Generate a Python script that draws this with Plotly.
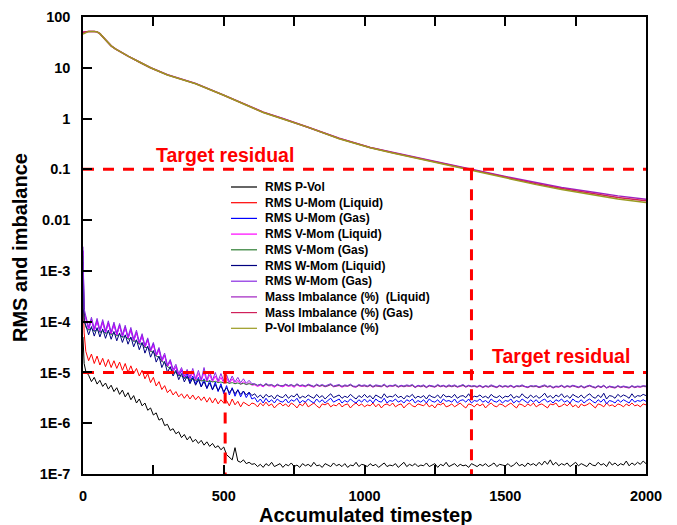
import plotly.graph_objects as go

# ---------------- data ----------------
# upper group (imbalances, %)
X_TOP = [0, 20, 40, 50, 60, 80, 100, 115, 130, 160, 200,
         240, 300, 400, 500, 640, 710, 800, 910, 1020, 1100,
         1200, 1300, 1380, 1500, 1610, 1700, 1820, 1900, 2000]
MASS_LIQ = [50, 52, 52, 51, 47, 36, 27, 23.5, 21, 17, 13,
            10, 7.3, 4.9, 2.9, 1.34, 1.0, 0.68, 0.41, 0.27, 0.215,
            0.165, 0.125, 0.1, 0.072, 0.054, 0.044, 0.035, 0.030, 0.0257]
MASS_GAS = [50, 52, 52, 51, 47, 36, 27, 23.5, 21, 17, 13,
            10, 7.25, 4.87, 2.88, 1.33, 0.99, 0.675, 0.405, 0.268, 0.212,
            0.16, 0.121, 0.097, 0.07, 0.052, 0.042, 0.033, 0.028, 0.024]
PVOL_IMB = [46, 52, 52, 51, 47, 36, 27, 23.5, 21, 17, 13,
            10, 7.2, 4.85, 2.87, 1.32, 0.98, 0.67, 0.40, 0.265, 0.21,
            0.158, 0.119, 0.095, 0.068, 0.050, 0.040, 0.031, 0.026, 0.0222]

# lower group (RMS residuals), values in units of 1e-6, at timesteps 0, 4, 10, 20, ..., 2000
X_LOW = [0, 4] + list(range(10, 2001, 10))
UNIT = 1e-6

RMS_PVOL = ([50, 15] +
            [10.5, 8.8, 6.6, 8.0, 5.9, 7.0, 5.3, 6.2, 4.7, 5.6] +
            [4.2, 5.0, 3.7, 4.5, 3.3, 4.0, 2.9, 3.5, 2.5, 3.0] +
            [2.2, 2.5, 1.8, 2.0, 1.45, 1.6, 1.15, 1.25, 0.9, 0.95] +
            [0.72, 0.78, 0.62, 0.68, 0.52, 0.6, 0.47, 0.55, 0.43, 0.48] +
            [0.40, 0.46, 0.37, 0.43, 0.35, 0.40, 0.33, 0.36, 0.30, 0.34] +
            [0.24, 0.21, 0.19, 0.33, 0.18, 0.17, 0.19, 0.16, 0.17, 0.155] +
            [0.16, 0.14, 0.155, 0.135, 0.16, 0.145, 0.17, 0.14, 0.15, 0.16] +
            [0.135, 0.155, 0.145, 0.165, 0.14, 0.15, 0.135, 0.16, 0.145, 0.155] +
            [0.14, 0.17, 0.145, 0.15, 0.135, 0.16, 0.15, 0.14, 0.165, 0.145] +
            [0.155, 0.14, 0.16, 0.135, 0.15, 0.145, 0.17, 0.14, 0.155, 0.15] +
            [0.14, 0.16, 0.145, 0.155, 0.135, 0.15, 0.165, 0.14, 0.15, 0.145] +
            [0.16, 0.135, 0.15, 0.17, 0.14, 0.155, 0.145, 0.16, 0.14, 0.15] +
            [0.145, 0.165, 0.14, 0.15, 0.16, 0.135, 0.155, 0.145, 0.17, 0.14] +
            [0.15, 0.16, 0.14, 0.155, 0.145, 0.15, 0.135, 0.16, 0.15, 0.14] +
            [0.155, 0.145, 0.16, 0.14, 0.15, 0.165, 0.14, 0.155, 0.15, 0.145] +
            [0.16, 0.14, 0.15, 0.17, 0.145, 0.155, 0.14, 0.165, 0.15, 0.16] +
            [0.145, 0.17, 0.15, 0.18, 0.155, 0.19, 0.15, 0.17, 0.145, 0.16] +
            [0.15, 0.165, 0.14, 0.155, 0.17, 0.145, 0.16, 0.15, 0.14, 0.165] +
            [0.15, 0.145, 0.17, 0.15, 0.16, 0.14, 0.175, 0.15, 0.165, 0.145] +
            [0.16, 0.15, 0.18, 0.145, 0.165, 0.15, 0.17, 0.155, 0.18, 0.16])

RMS_U_LIQ = ([500, 60] +
             [26, 17, 23, 15, 21, 14, 19, 13, 18, 12.5] +
             [17, 12, 16, 11, 15, 10, 13.5, 9.5, 12, 8.5] +
             [11, 7.5, 9.5, 6.3, 8, 5.4, 6.6, 4.6, 5.5, 4.0] +
             [4.6, 3.6, 4.2, 3.3, 3.8, 3.1, 3.7, 3.0, 3.6, 2.9] +
             [3.4, 2.8, 3.3, 2.6, 3.2, 2.5, 3.1, 2.4, 2.9, 2.5] +
             [2.8, 2.2, 3.0, 2.3, 2.7, 2.1, 2.6, 2.4, 2.2, 2.5] +
             [2.4, 2.1, 2.5, 2.2, 2.6, 2.2, 2.4, 2.0, 2.3, 2.5] +
             [2.2, 2.4, 2.1, 2.5, 2.3, 2.0, 2.4, 2.2, 2.6, 2.1] +
             [2.3, 2.5, 2.2, 2.0, 2.4, 2.3, 2.5, 2.1, 2.3, 2.2] +
             [2.5, 2.1, 2.3, 2.4, 2.0, 2.3, 2.5, 2.2, 2.4, 2.1] +
             [2.3, 2.2, 2.5, 2.1, 2.4, 2.0, 2.3, 2.4, 2.2, 2.5] +
             [2.1, 2.3, 2.4, 2.0, 2.3, 2.5, 2.2, 2.1, 2.4, 2.3] +
             [2.2, 2.5, 2.1, 2.3, 2.0, 2.4, 2.3, 2.5, 2.1, 2.2] +
             [2.4, 2.1, 2.3, 2.5, 2.2, 2.0, 2.4, 2.3, 2.1, 2.4] +
             [2.2, 2.4, 2.0, 2.3, 2.5, 2.2, 2.1, 2.4, 2.3, 2.1] +
             [2.3, 2.5, 2.2, 2.0, 2.4, 2.3, 2.1, 2.4, 2.2, 2.5] +
             [2.1, 2.3, 2.4, 2.2, 2.0, 2.4, 2.3, 2.5, 2.1, 2.2] +
             [2.4, 2.2, 2.5, 2.1, 2.3, 2.0, 2.4, 2.2, 2.3, 2.5] +
             [2.2, 2.0, 2.4, 2.3, 2.1, 2.5, 2.2, 2.3, 2.1, 2.4] +
             [2.3, 2.1, 2.4, 2.2, 2.5, 2.2, 2.3, 2.1, 2.4, 2.3])

RMS_U_GAS = ([2500, 150] +
             [120, 70, 110, 66, 105, 63, 100, 60, 95, 57] +
             [90, 54, 85, 50, 78, 46, 70, 41, 62, 36] +
             [54, 31, 45, 26, 37, 21, 29, 16.5, 22, 13] +
             [17, 10.5, 13, 8.5, 11, 7.5, 9.5, 6.5, 8.5, 6] +
             [8, 5.2, 7.5, 4.8, 7, 4.5, 6.5, 4.2, 6, 3.8] +
             [5.5, 3.6, 5, 3.4, 4.6, 3.3, 4.3, 3.2, 4.0, 3.0] +
             [3.2, 2.6, 3.0, 2.5, 3.1, 2.6, 2.9, 2.5, 3.0, 2.7] +
             [2.6, 3.0, 2.5, 2.9, 2.7, 3.1, 2.5, 2.8, 2.6, 3.0] +
             [2.7, 2.5, 3.0, 2.6, 2.9, 2.5, 2.8, 3.1, 2.6, 2.8] +
             [3.0, 2.5, 2.8, 2.6, 3.0, 2.7, 2.5, 2.9, 2.6, 3.0] +
             [2.6, 2.9, 2.5, 3.0, 2.7, 2.6, 3.1, 2.5, 2.8, 2.7] +
             [3.0, 2.6, 2.8, 2.5, 2.9, 2.7, 3.0, 2.5, 2.8, 2.6] +
             [2.9, 2.5, 3.0, 2.7, 2.6, 2.9, 2.5, 3.0, 2.7, 2.8] +
             [2.6, 3.0, 2.5, 2.8, 2.9, 2.6, 3.0, 2.5, 2.8, 2.7] +
             [3.0, 2.6, 2.8, 2.5, 3.0, 2.7, 2.6, 2.9, 2.5, 2.8] +
             [2.7, 3.0, 2.5, 2.8, 2.6, 3.0, 2.7, 2.5, 2.9, 2.6] +
             [2.9, 2.5, 2.8, 3.0, 2.6, 2.8, 2.5, 2.9, 2.7, 3.0] +
             [2.6, 2.8, 2.5, 3.0, 2.7, 2.6, 2.9, 2.5, 2.8, 3.0] +
             [2.7, 2.5, 2.9, 2.6, 3.0, 2.4, 2.8, 2.7, 2.5, 2.9] +
             [2.6, 2.9, 2.7, 2.5, 3.0, 2.6, 2.8, 2.7, 2.9, 2.7])

RMS_V_LIQ = ([2500, 160] +
             [115, 72, 108, 68, 102, 65, 97, 62, 92, 58] +
             [87, 55, 82, 52, 76, 47, 69, 42, 61, 37] +
             [52, 31, 43, 26, 35, 21, 28, 16.5, 22, 13] +
             [16.5, 10.5, 13, 9, 11.5, 8, 10.5, 7.5, 10, 7] +
             [9.5, 6.8, 10, 6.6, 9, 6.5, 8.5, 6.3, 8, 6.2] +
             [7.8, 6.0, 7.5, 5.9, 7.0, 5.8, 6.6, 5.7, 6.3, 5.6] +
             [5.7, 5.3, 5.6, 5.2, 5.8, 5.4, 5.5, 5.1, 5.6, 5.3] +
             [5.2, 5.6, 5.3, 5.5, 5.1, 5.7, 5.3, 5.4, 5.2, 5.6] +
             [5.4, 5.1, 5.6, 5.3, 5.5, 5.2, 5.4, 5.7, 5.2, 5.4] +
             [5.5, 5.1, 5.4, 5.3, 5.6, 5.2, 5.1, 5.5, 5.3, 5.4] +
             [5.2, 5.5, 5.1, 5.4, 5.3, 5.2, 5.6, 5.1, 5.4, 5.3] +
             [5.5, 5.1, 5.4, 5.2, 5.4, 5.3, 5.5, 5.0, 5.4, 5.2] +
             [5.4, 5.0, 5.4, 5.3, 5.1, 5.5, 5.2, 5.4, 5.1, 5.4] +
             [5.2, 5.4, 5.1, 5.3, 5.5, 5.1, 5.4, 5.2, 5.3, 5.1] +
             [5.4, 5.0, 5.3, 5.1, 5.4, 5.2, 5.0, 5.4, 5.1, 5.3] +
             [5.1, 5.4, 5.0, 5.3, 5.2, 5.4, 5.1, 5.0, 5.3, 5.2] +
             [5.3, 5.0, 5.2, 5.4, 5.1, 5.3, 4.9, 5.2, 5.1, 5.4] +
             [5.0, 5.3, 5.1, 5.4, 5.2, 5.0, 5.3, 4.9, 5.2, 5.4] +
             [5.1, 4.9, 5.3, 5.0, 5.4, 4.9, 5.2, 5.1, 4.9, 5.3] +
             [5.0, 5.2, 5.1, 4.9, 5.3, 5.0, 5.2, 5.1, 5.3, 5.2])

RMS_V_GAS = ([2000, 120] +
             [78, 68, 74, 64, 70, 61, 66, 58, 63, 55] +
             [60, 52, 56, 49, 52, 45, 47, 41, 42, 36] +
             [37, 31, 31, 26, 25, 21, 20, 16.5, 15.5, 13] +
             [12, 10.5, 9.8, 8.8, 8.5, 7.9, 7.8, 7.3, 7.4, 7.0] +
             [7.2, 6.8, 7.0, 6.6, 6.8, 6.5, 6.7, 6.3, 6.5, 6.2] +
             [6.4, 6.1, 6.3, 6.0, 6.2, 5.9, 6.1, 5.8, 6.0, 5.8] +
             [5.9, 5.6, 5.8, 5.5, 5.8, 5.6, 5.7, 5.4, 5.7, 5.5] +
             [5.5, 5.8, 5.5, 5.7, 5.4, 5.8, 5.5, 5.6, 5.4, 5.7] +
             [5.5, 5.3, 5.7, 5.4, 5.6, 5.3, 5.5, 5.8, 5.3, 5.5] +
             [5.6, 5.3, 5.5, 5.4, 5.7, 5.3, 5.2, 5.6, 5.4, 5.5] +
             [5.3, 5.6, 5.2, 5.5, 5.4, 5.3, 5.7, 5.2, 5.5, 5.4] +
             [5.6, 5.2, 5.5, 5.3, 5.5, 5.4, 5.6, 5.1, 5.5, 5.3] +
             [5.5, 5.1, 5.5, 5.4, 5.2, 5.6, 5.3, 5.5, 5.2, 5.5] +
             [5.3, 5.5, 5.2, 5.4, 5.6, 5.2, 5.5, 5.3, 5.4, 5.2] +
             [5.5, 5.1, 5.4, 5.2, 5.5, 5.3, 5.1, 5.5, 5.2, 5.4] +
             [5.2, 5.5, 5.1, 5.4, 5.3, 5.5, 5.2, 5.1, 5.4, 5.3] +
             [5.4, 5.1, 5.3, 5.5, 5.2, 5.4, 5.0, 5.3, 5.2, 5.5] +
             [5.1, 5.4, 5.2, 5.5, 5.3, 5.1, 5.4, 5.0, 5.3, 5.5] +
             [5.2, 5.0, 5.4, 5.1, 5.5, 5.0, 5.3, 5.2, 5.0, 5.4] +
             [5.1, 5.3, 5.2, 5.0, 5.4, 5.1, 5.3, 5.2, 5.4, 5.3])

RMS_W_LIQ = ([1500, 100] +
             [85, 55, 80, 52, 76, 50, 72, 47, 68, 45] +
             [64, 42, 60, 39, 55, 36, 50, 32, 44, 28] +
             [39, 24, 33, 20, 27, 16, 21, 12.5, 16.5, 10] +
             [13, 8.5, 11, 7.2, 9.5, 6.5, 8.5, 6, 7.8, 5.6] +
             [7.2, 5.2, 6.6, 4.9, 6.2, 4.6, 5.8, 4.4, 5.4, 4.2] +
             [5.0, 4.0, 4.8, 3.8, 4.5, 3.7, 4.3, 3.6, 4.1, 3.5] +
             [3.8, 3.2, 3.6, 3.1, 3.7, 3.3, 3.5, 3.0, 3.6, 3.3] +
             [3.2, 3.7, 3.1, 3.5, 3.3, 3.8, 3.1, 3.4, 3.2, 3.6] +
             [3.3, 3.1, 3.7, 3.2, 3.5, 3.0, 3.4, 3.8, 3.2, 3.4] +
             [3.6, 3.1, 3.4, 3.2, 3.7, 3.3, 3.0, 3.5, 3.2, 3.7] +
             [3.2, 3.5, 3.0, 3.6, 3.3, 3.1, 3.8, 3.2, 3.4, 3.3] +
             [3.7, 3.2, 3.4, 3.0, 3.5, 3.3, 3.7, 3.1, 3.4, 3.2] +
             [3.5, 3.0, 3.6, 3.3, 3.2, 3.6, 3.1, 3.7, 3.3, 3.4] +
             [3.2, 3.7, 3.1, 3.4, 3.5, 3.2, 3.8, 3.1, 3.4, 3.3] +
             [3.6, 3.2, 3.4, 3.1, 3.7, 3.3, 3.2, 3.5, 3.1, 3.4] +
             [3.3, 3.7, 3.1, 3.4, 3.2, 3.8, 3.3, 3.1, 3.6, 3.2] +
             [3.5, 3.1, 3.4, 3.9, 3.2, 3.5, 3.1, 3.6, 3.3, 3.8] +
             [3.2, 3.5, 3.1, 3.7, 3.4, 3.2, 3.6, 3.1, 3.5, 3.8] +
             [3.3, 3.1, 3.6, 3.2, 3.9, 3.0, 3.5, 3.4, 3.1, 3.7] +
             [3.3, 3.6, 3.4, 3.1, 3.8, 3.2, 3.5, 3.4, 3.7, 3.5])

RMS_W_GAS = ([3000, 180] +
             [130, 78, 122, 74, 116, 70, 110, 67, 104, 63] +
             [98, 60, 92, 56, 85, 51, 77, 46, 68, 40] +
             [58, 34, 48, 28, 39, 23, 31, 18, 24, 14] +
             [18, 11.5, 14.5, 9.5, 12.5, 8.5, 11.5, 8, 12, 7.5] +
             [11, 7.2, 12.5, 7, 10.5, 7, 10, 6.8, 9.5, 6.8] +
             [9, 6.5, 8.5, 6.5, 8, 6.3, 7.5, 6.1, 7, 6.0] +
             [6.0, 5.5, 5.9, 5.4, 6.1, 5.6, 5.8, 5.3, 5.9, 5.5] +
             [5.4, 5.9, 5.5, 5.8, 5.3, 6.0, 5.5, 5.7, 5.4, 5.9] +
             [5.6, 5.3, 5.9, 5.5, 5.8, 5.4, 5.7, 6.0, 5.4, 5.6] +
             [5.8, 5.3, 5.7, 5.5, 5.9, 5.4, 5.3, 5.8, 5.5, 5.7] +
             [5.4, 5.8, 5.3, 5.7, 5.5, 5.4, 5.9, 5.3, 5.6, 5.5] +
             [5.8, 5.3, 5.6, 5.4, 5.7, 5.5, 5.8, 5.2, 5.6, 5.4] +
             [5.7, 5.2, 5.6, 5.5, 5.3, 5.8, 5.4, 5.6, 5.3, 5.7] +
             [5.4, 5.7, 5.3, 5.5, 5.8, 5.3, 5.6, 5.4, 5.5, 5.3] +
             [5.6, 5.2, 5.5, 5.3, 5.7, 5.4, 5.2, 5.6, 5.3, 5.5] +
             [5.3, 5.6, 5.2, 5.5, 5.4, 5.7, 5.3, 5.2, 5.5, 5.4] +
             [5.5, 5.2, 5.4, 5.7, 5.3, 5.5, 5.1, 5.4, 5.3, 5.6] +
             [5.2, 5.5, 5.3, 5.6, 5.4, 5.2, 5.5, 5.1, 5.4, 5.6] +
             [5.3, 5.1, 5.5, 5.2, 5.6, 5.0, 5.4, 5.3, 5.1, 5.5] +
             [5.2, 5.4, 5.3, 5.1, 5.5, 5.2, 5.4, 5.3, 5.5, 5.4])

# target residual markers
TARGET_HI = 0.1
TARGET_LO = 1e-5
CROSS_HI_X = 1380
CROSS_LO_X = 505
X_MIN, X_MAX = 0, 2000
Y_MIN = 1e-7

X_TICKS = [0, 250, 500, 750, 1000, 1250, 1500, 1750, 2000]
X_TICKTEXT = ["0", "", "500", "", "1000", "", "1500", "", "2000"]
Y_TICKS = [1e-7, 1e-6, 1e-5, 1e-4, 1e-3, 0.01, 0.1, 1, 10, 100]
Y_TICKTEXT = ["1E-7", "1E-6", "1E-5", "1E-4", "1E-3", "0.01", "0.1", "1", "10", "100"]

NB = "\u00a0"
SERIES = [
    ("RMS P-Vol", "#000000", X_LOW, [v * UNIT for v in RMS_PVOL], 1.0),
    ("RMS U-Mom (Liquid)", "#ff0000", X_LOW, [v * UNIT for v in RMS_U_LIQ], 1.0),
    ("RMS U-Mom (Gas)", "#0000ff", X_LOW, [v * UNIT for v in RMS_U_GAS], 1.0),
    ("RMS V-Mom (Liquid)", "#ff00ff", X_LOW, [v * UNIT for v in RMS_V_LIQ], 1.0),
    ("RMS V-Mom (Gas)", "#2e7d32", X_LOW, [v * UNIT for v in RMS_V_GAS], 1.0),
    ("RMS W-Mom (Liquid)", "#000080", X_LOW, [v * UNIT for v in RMS_W_LIQ], 1.0),
    ("RMS W-Mom (Gas)", "#8a2be2", X_LOW, [v * UNIT for v in RMS_W_GAS], 1.0),
    ("Mass Imbalance (%)" + NB + NB + "(Liquid)", "#a020c0", X_TOP, MASS_LIQ, 1.5),
    ("Mass Imbalance (%) (Gas)", "#d0205a", X_TOP, MASS_GAS, 1.5),
    ("P-Vol Imbalance (%)", "#9a9a20", X_TOP, PVOL_IMB, 1.5),
]

# ---------------- figure ----------------
fig = go.Figure()
for name, color, xs, ys, w in SERIES:
    fig.add_trace(go.Scatter(x=xs, y=ys, mode="lines", name=name,
                             line=dict(color=color, width=w), showlegend=False))

DASH = dict(color="#ff0000", width=3, dash="11px,9px")
fig.add_trace(go.Scatter(x=[X_MIN, X_MAX], y=[TARGET_HI, TARGET_HI], mode="lines",
                         line=DASH, showlegend=False, hoverinfo="skip"))
fig.add_trace(go.Scatter(x=[CROSS_HI_X, CROSS_HI_X], y=[TARGET_HI, Y_MIN], mode="lines",
                         line=DASH, showlegend=False, hoverinfo="skip"))
fig.add_trace(go.Scatter(x=[X_MIN, X_MAX], y=[TARGET_LO, TARGET_LO], mode="lines",
                         line=DASH, showlegend=False, hoverinfo="skip"))
fig.add_trace(go.Scatter(x=[CROSS_LO_X, CROSS_LO_X], y=[TARGET_LO, Y_MIN], mode="lines",
                         line=DASH, showlegend=False, hoverinfo="skip"))

FONT = "Arial, Liberation Sans, sans-serif"
# page body has an 8px margin: figure is offset by (8, 8) in the window;
# the figure extends past the window bottom so the x title is not clipped
OFF = 8
W, H = 677 - OFF, 525
L, R, T = 83 - OFF, 31, 17 - OFF
B = H - (474 - OFF)
PW, PH = W - L - R, H - T - B


def px_x(px):
    # px is a window x coordinate
    return (px - OFF - L) / PW


def px_y(py):
    # py is a window y coordinate
    return (H - B - (py - OFF)) / PH


shapes = []
annotations = []
# custom legend
for i, (name, color, xs, ys, w) in enumerate(SERIES):
    yrow = 187 + i * 15.7
    shapes.append(dict(type="line", xref="paper", yref="paper",
                       x0=px_x(231), x1=px_x(257), y0=px_y(yrow), y1=px_y(yrow),
                       line=dict(color=color, width=1.2)))
    annotations.append(dict(xref="paper", yref="paper", x=px_x(263), y=px_y(yrow),
                            xanchor="left", yanchor="middle", showarrow=False,
                            text=name, font=dict(family=FONT, size=12, color="black", weight="bold")))

annotations.append(dict(xref="paper", yref="paper", x=px_x(225), y=px_y(155),
                        xanchor="center", yanchor="middle", showarrow=False,
                        text="Target residual",
                        font=dict(family=FONT, size=19.5, color="#ff0000", weight="bold")))
annotations.append(dict(xref="paper", yref="paper", x=px_x(561), y=px_y(356),
                        xanchor="center", yanchor="middle", showarrow=False,
                        text="Target residual",
                        font=dict(family=FONT, size=19.5, color="#ff0000", weight="bold")))
annotations.append(dict(xref="paper", yref="paper", x=px_x(365), y=px_y(515),
                        xanchor="center", yanchor="middle", showarrow=False,
                        text="Accumulated timestep",
                        font=dict(family=FONT, size=20, color="black", weight="bold")))
annotations.append(dict(xref="paper", yref="paper", x=px_x(20), y=px_y(248),
                        xanchor="center", yanchor="middle", showarrow=False, textangle=-90,
                        text="RMS and imbalance",
                        font=dict(family=FONT, size=20, color="black", weight="bold")))

fig.update_layout(
    width=W, height=H,
    margin=dict(l=L, r=R, t=T, b=B, autoexpand=False),
    plot_bgcolor="white", paper_bgcolor="white",
    showlegend=False,
    font=dict(family=FONT, color="black"),
    shapes=shapes, annotations=annotations,
)
fig.update_xaxes(range=[X_MIN, X_MAX], tickvals=X_TICKS, ticktext=X_TICKTEXT,
                 ticks="inside", ticklen=9, tickwidth=1.5, tickcolor="black",
                 showline=True, linewidth=1.5, linecolor="black", mirror="ticks",
                 showgrid=False, zeroline=False, ticklabelstandoff=8, automargin=False,
                 tickfont=dict(family=FONT, size=14.5, color="black", weight="bold"))
fig.update_yaxes(type="log", range=[-7, 2], tickvals=Y_TICKS, ticktext=Y_TICKTEXT,
                 ticks="inside", ticklen=9, tickwidth=1.5, tickcolor="black",
                 showline=True, linewidth=1.5, linecolor="black", mirror=True,
                 showgrid=False, zeroline=False, ticklabelstandoff=8, automargin=False,
                 tickfont=dict(family=FONT, size=14.5, color="black", weight="bold"))

fig.write_html("out.html")
